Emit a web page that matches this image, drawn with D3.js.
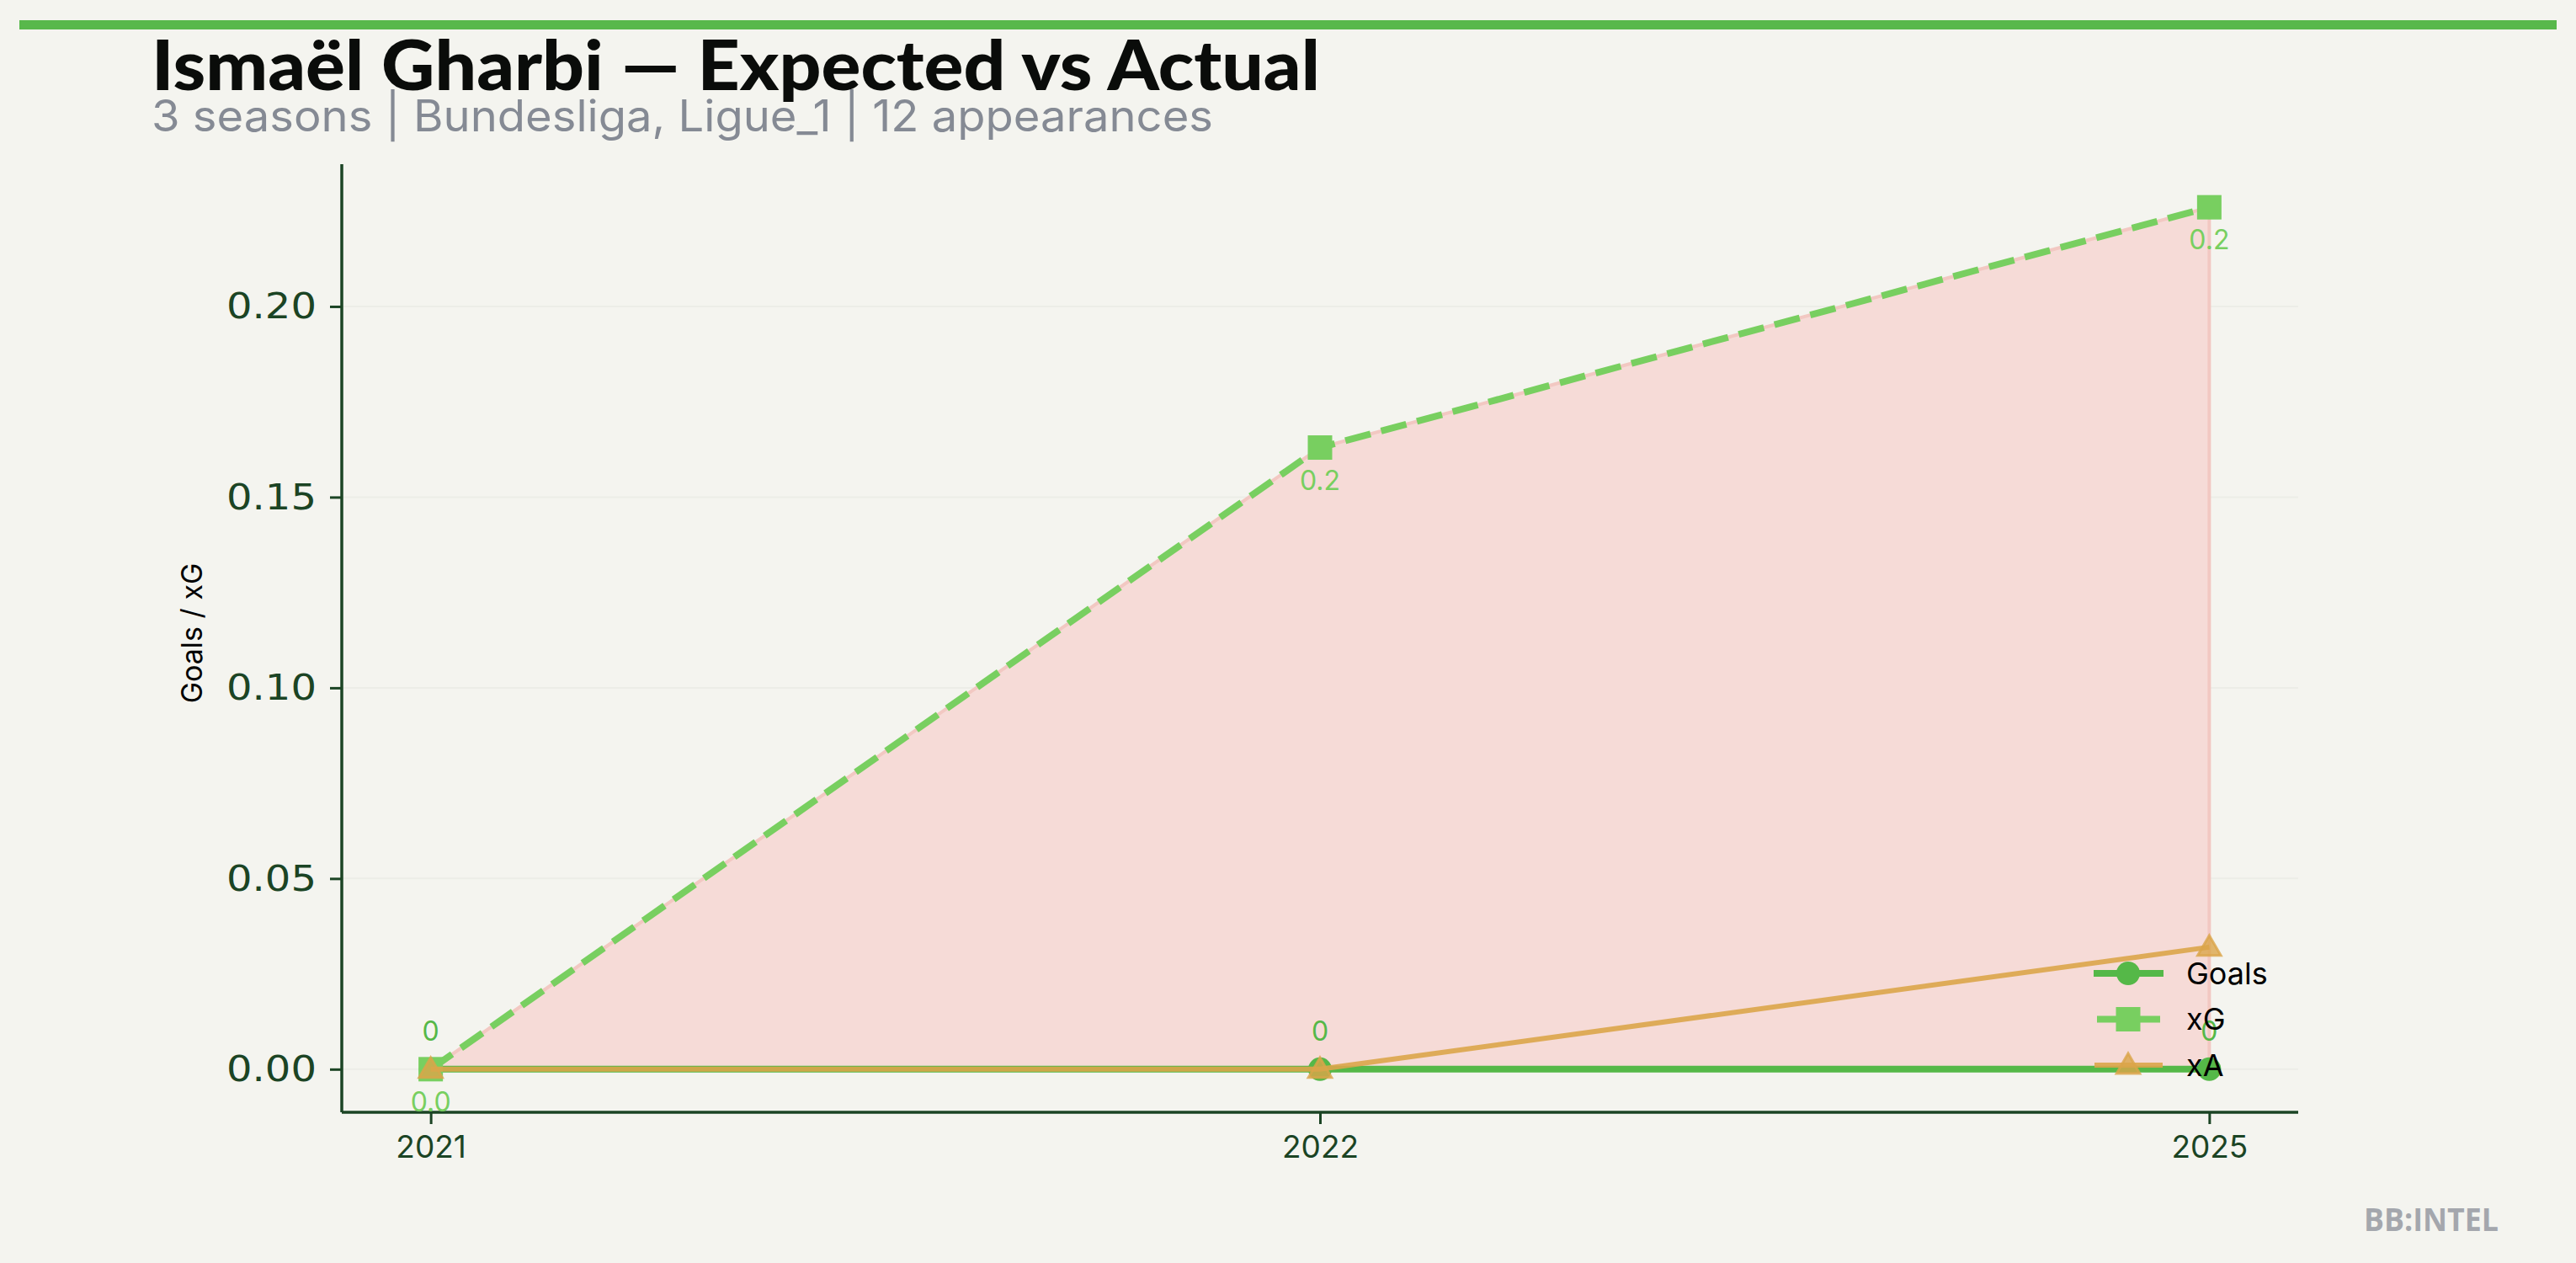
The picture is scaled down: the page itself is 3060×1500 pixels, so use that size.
<!DOCTYPE html>
<html>
<head>
<meta charset="utf-8">
<script src="https://cdn.jsdelivr.net/npm/d3@7"></script>
<style>
  html, body { margin: 0; padding: 0; background: #f4f4ef; }
  svg { display: block; }
</style>
</head>
<body>
<script>
// ---- data ----
const seasons = ["2021", "2022", "2025"];
const goals = [0, 0, 0];
const xg = [0.0, 0.163, 0.226];
const xa = [0.0, 0.0, 0.032];
const yTicks = [0.00, 0.05, 0.10, 0.15, 0.20];
const seriesNames = ["Goals", "xG", "xA"];
const titleText = "Ismaël Gharbi — Expected vs Actual";
const subtitleText = "3 seasons | Bundesliga, Ligue_1 | 12 appearances";
const yLabel = "Goals / xG";
const brand = "BB:INTEL";

// ---- setup ----
const W = 3060, H = 1500;
const C = { goals: "#55b848", xg: "#78cf60", xa: "#dba54a", axis: "#1b4424", grid: "#ecede7" };
const svg = d3.select("body").append("svg").attr("width", W).attr("height", H);
svg.append("rect").attr("width", W).attr("height", H).attr("fill", "#f4f4ef");

const plot = { left: 406, right: 2730, top: 195, bottom: 1321 };
const x = d3.scalePoint().domain(seasons).range([plot.left, plot.right]).padding(0.1);
const y = d3.scaleLinear().domain([-0.0113, 0.2373]).range([plot.bottom, plot.top]);

// top bar
svg.append("rect").attr("x", 23).attr("y", 24).attr("width", 3014).attr("height", 11).attr("fill", "#58b84b");

// title
svg.append("text").attr("x", 180).attr("y", 107)
  .attr("font-family", "Lato, 'DejaVu Sans', sans-serif").attr("font-weight", 900)
  .attr("font-size", 82).attr("fill", "#0a0c0a")
  .attr("textLength", 1388).attr("lengthAdjust", "spacingAndGlyphs")
  .text(titleText);
svg.append("text").attr("x", 180).attr("y", 156)
  .attr("font-family", "Inter, Roboto, sans-serif")
  .attr("font-size", 52).attr("fill", "#858a94")
  .attr("textLength", 1261).attr("lengthAdjust", "spacingAndGlyphs")
  .text(subtitleText);

// grid
svg.append("g").selectAll("line").data(yTicks).join("line")
  .attr("x1", plot.left).attr("x2", plot.right)
  .attr("y1", d => y(d)).attr("y2", d => y(d))
  .attr("stroke", C.grid).attr("stroke-width", 2);

// fill between xG and goals
const idx = d3.range(seasons.length);
const area = d3.area()
  .x(i => x(seasons[i]))
  .y0(i => y(goals[i]))
  .y1(i => y(xg[i]));
svg.append("path").datum(idx).attr("d", area)
  .attr("fill", "#f6dbd7")
  .attr("stroke", "#f2c8c2").attr("stroke-width", 4);

// axes
const yAxis = svg.append("g").attr("transform", `translate(${plot.left},0)`)
  .call(d3.axisLeft(y).tickValues(yTicks).tickFormat(d3.format(".2f")).tickSize(14).tickPadding(16));
const xAxis = svg.append("g").attr("transform", `translate(0,${plot.bottom})`)
  .call(d3.axisBottom(x).tickSize(14).tickPadding(14));
[yAxis, xAxis].forEach(g => {
  g.select(".domain").attr("stroke", C.axis).attr("stroke-width", 3.5);
  g.selectAll(".tick line").attr("stroke", C.axis).attr("stroke-width", 3);
});
yAxis.select(".domain").attr("d", `M0,${plot.top}V${plot.bottom}`);
xAxis.select(".domain").attr("d", `M${plot.left},0H${plot.right}`);
yAxis.selectAll(".tick text")
  .attr("font-family", "'DejaVu Sans', sans-serif").attr("font-size", 43).attr("fill", C.axis)
  .attr("textLength", 107).attr("lengthAdjust", "spacingAndGlyphs");
xAxis.selectAll(".tick text")
  .attr("font-family", "Inter, Roboto, sans-serif").attr("font-size", 37).attr("fill", C.axis);

// y label
svg.append("text").attr("transform", `translate(240,${(plot.top + plot.bottom) / 2 - 6}) rotate(-90)`)
  .attr("text-anchor", "middle").attr("font-family", "Inter, Roboto, sans-serif")
  .attr("font-size", 34).attr("fill", "#000").text(yLabel);

// lines
const line = arr => d3.line().x(i => x(seasons[i])).y(i => y(arr[i]))(idx);
svg.append("path").attr("d", line(goals)).attr("fill", "none")
  .attr("stroke", C.goals).attr("stroke-width", 8);
svg.append("g").selectAll("circle").data(idx).join("circle")
  .attr("cx", i => x(seasons[i])).attr("cy", i => y(goals[i])).attr("r", 14).attr("fill", C.goals);

svg.append("path").attr("d", line(xg)).attr("fill", "none")
  .attr("stroke", C.xg).attr("stroke-width", 8).attr("stroke-dasharray", "31,13");
const sq = d3.symbol().type(d3.symbolSquare).size(29 * 29);
svg.append("g").selectAll("path").data(idx).join("path")
  .attr("transform", i => `translate(${x(seasons[i])},${y(xg[i])})`).attr("d", sq).attr("fill", C.xg);

svg.append("path").attr("d", line(xa)).attr("fill", "none")
  .attr("stroke", C.xa).attr("stroke-width", 6).attr("stroke-opacity", 0.9);
const tri = d3.symbol().type(d3.symbolTriangle).size(330);
svg.append("g").selectAll("path").data(idx).join("path")
  .attr("transform", i => `translate(${x(seasons[i])},${y(xa[i]) + 2})`).attr("d", tri)
  .attr("fill", C.xa).attr("fill-opacity", 0.8)
  .attr("stroke", C.xa).attr("stroke-opacity", 0.8).attr("stroke-width", 3);

// data labels
svg.append("g").selectAll("text").data(idx).join("text")
  .attr("x", i => x(seasons[i])).attr("y", i => y(goals[i]) - 45).attr("dy", "0.35em")
  .attr("text-anchor", "middle").attr("font-family", "Inter, Roboto, sans-serif")
  .attr("font-size", 32).attr("fill", C.goals).text(i => d3.format("d")(goals[i]));
svg.append("g").selectAll("text").data(idx).join("text")
  .attr("x", i => x(seasons[i])).attr("y", i => y(xg[i]) + 39).attr("dy", "0.35em")
  .attr("text-anchor", "middle").attr("font-family", "Inter, Roboto, sans-serif")
  .attr("font-size", 32).attr("fill", C.xg).text(i => d3.format(".1f")(xg[i]));

// legend
const lg = svg.append("g").attr("transform", "translate(2487,1156)");
const rowH = 54.5;
seriesNames.forEach((name, k) => {
  const g = lg.append("g").attr("transform", `translate(0,${k * rowH})`);
  if (k === 0) {
    g.append("line").attr("x1", 0).attr("x2", 83).attr("stroke", C.goals).attr("stroke-width", 8);
    g.append("circle").attr("cx", 41).attr("r", 14).attr("fill", C.goals);
  } else if (k === 1) {
    g.append("line").attr("x1", 4).attr("x2", 79).attr("stroke", C.xg).attr("stroke-width", 8).attr("stroke-dasharray", "31,13");
    g.append("path").attr("transform", "translate(41,0)").attr("d", sq).attr("fill", C.xg);
  } else {
    g.append("line").attr("x1", 1).attr("x2", 82).attr("stroke", C.xa).attr("stroke-width", 6).attr("stroke-opacity", 0.9);
    g.append("path").attr("transform", "translate(41,2)").attr("d", tri)
      .attr("fill", C.xa).attr("fill-opacity", 0.8)
      .attr("stroke", C.xa).attr("stroke-opacity", 0.8).attr("stroke-width", 3);
  }
  g.append("text").attr("x", 110).attr("dy", "0.35em")
    .attr("font-family", "Inter, Roboto, sans-serif").attr("font-size", 36).attr("fill", "#000").text(name);
});

// brand
svg.append("text").attr("x", 2968).attr("y", 1462).attr("text-anchor", "end")
  .attr("font-family", "'Open Sans', sans-serif").attr("font-weight", 700)
  .attr("font-size", 38).attr("fill", "#a4a7ad")
  .attr("textLength", 160).attr("lengthAdjust", "spacingAndGlyphs").text(brand);
</script>
</body>
</html>
